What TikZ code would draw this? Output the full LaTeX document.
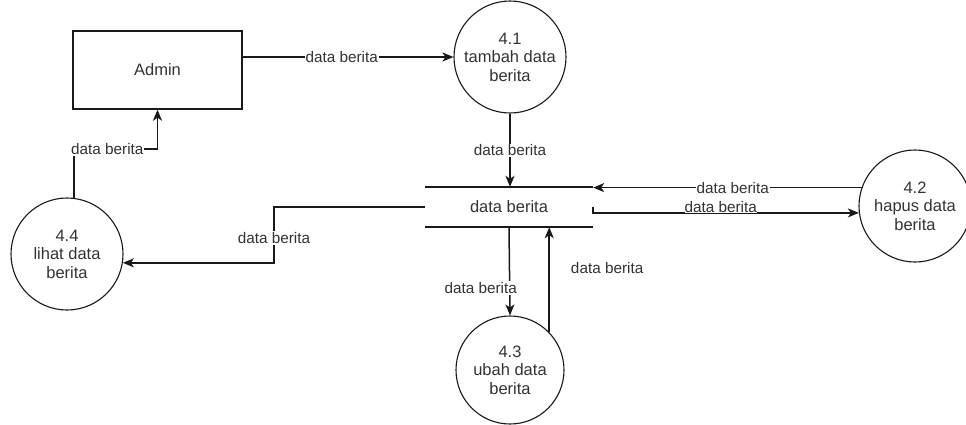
\documentclass[tikz,border=0pt]{standalone}
\usepackage{fontspec}
\setmainfont{Liberation Sans}
\usetikzlibrary{arrows.meta,calc}
\definecolor{txt}{RGB}{51,51,51}
\definecolor{ln}{RGB}{25,25,25}
\begin{document}
\begin{tikzpicture}[x=1pt,y=-1pt,
  nodefont/.style={font=\fontsize{16.5}{18.5}\selectfont,text=txt},
  proc/.style={circle,draw=ln,line width=1.1pt,minimum size=112pt,inner sep=0pt,align=center,nodefont},
  entity/.style={rectangle,draw=ln,line width=1.4pt,minimum width=169pt,minimum height=78pt,nodefont},
  storebox/.style={rectangle,minimum width=168pt,minimum height=40pt,inner sep=0pt,nodefont},
  lbl/.style={font=\fontsize{15.3}{17}\selectfont,text=txt,inner sep=1pt},
  lblw/.style={lbl,fill=white},
  conn/.style={draw=ln,line width=1.5pt},
  arr/.style={conn,-{Stealth[length=11pt,width=9pt,inset=3pt]}}]
\useasboundingbox (0,0) rectangle (966,424);

\node[entity] (admin) at (157.5,70) {Admin};
\node[proc] (t41) at (510,57) {4.1\\tambah data\\berita};
\node[proc] (t42) at (915,206) {4.2\\hapus data\\berita};
\node[proc,minimum size=108pt] (t43) at (510,370) {4.3\\ubah data\\berita};
\node[proc] (t44) at (67,254) {4.4\\lihat data\\berita};
\node[storebox] (store) at (509,207) {data berita};
\draw[conn] (store.north west) -- (store.north east);
\draw[conn] (store.south west) -- (store.south east);

\coordinate (k1) at (274,238);
\coordinate (k3) at (0,149);

\draw[arr] (admin.east |- t41.west) -- node[lblw,pos=0.47]{data berita} (t41.west);
\draw[arr] (t41.south) -- node[lblw]{data berita} (t41.south |- store.north);
\draw[arr] (t42.161) -- node[lblw,pos=0.48]{data berita} (store.north east |- t42.161);
\draw[arr] (store.east) |- node[lblw,inner sep=0pt,pos=0.74,yshift=6pt]{data berita} (t42.187);
\draw[arr] (store.south) -- node[lblw,pos=0.69,xshift=-29pt]{data berita} (t43.north);
\draw[arr] (t43.44) -- node[lbl,anchor=west,pos=0.61,xshift=20pt]{data berita} (t43.44 |- store.south);
\draw[arr] (store.west) -| (k1) node[lblw]{data berita} |- (t44.351);
\draw[arr] (t44.83) |- node[lblw,pos=0.7]{data berita} (admin.south |- k3) -- (admin.south);
\end{tikzpicture}
\end{document}
